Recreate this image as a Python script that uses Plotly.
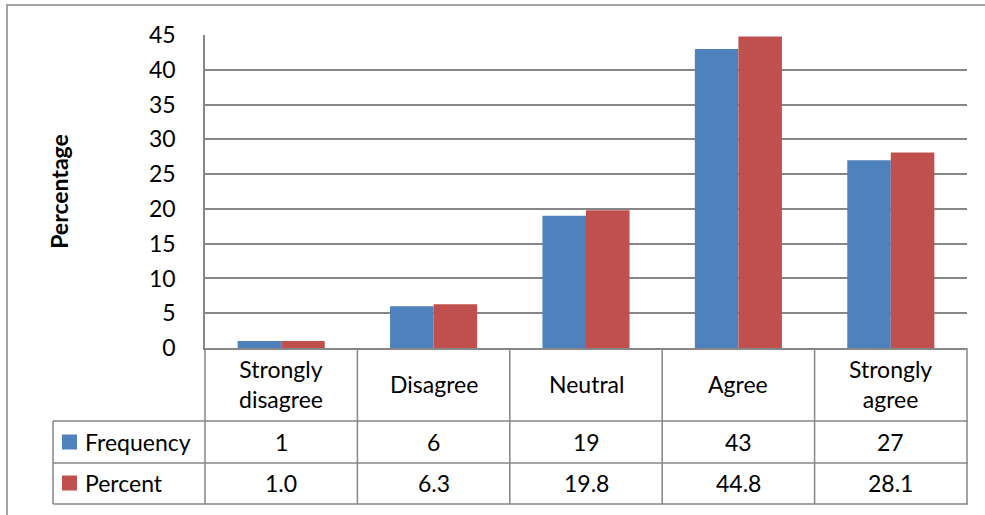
import plotly.graph_objects as go

categories = ["Strongly<br>disagree", "Disagree", "Neutral", "Agree", "Strongly<br>agree"]
frequency = [1, 6, 19, 43, 27]
percent = [1.0, 6.3, 19.8, 44.8, 28.1]
series_names = ["Frequency", "Percent"]
y_ticks = [0, 5, 10, 15, 20, 25, 30, 35, 40, 45]

BLUE = "#4F81BD"
RED = "#C0504D"
GRID = "#868686"
FONT = "Lato"
FS = 23

W, H = 985, 515
L, R, T, B = 205, 967, 35, 348

def px(x):
    return (x - L) / (R - L)

def py(y):
    return (B - y) / (B - T)

xs = list(range(len(categories)))
fig = go.Figure()
fig.add_trace(go.Bar(x=xs, y=frequency, name=series_names[0], marker=dict(color=BLUE, line=dict(width=0))))
fig.add_trace(go.Bar(x=xs, y=percent, name=series_names[1], marker=dict(color=RED, line=dict(width=0))))

shapes = []
line = dict(color=GRID, width=1.5)
# outer frame
shapes.append(dict(type="rect", xref="paper", yref="paper", x0=px(7), x1=px(1010), y0=py(5), y1=py(540), line=dict(color=GRID, width=1.5)))
# table rows
row_y = [421, 463, 504]
for yy in row_y:
    shapes.append(dict(type="line", xref="paper", yref="paper", x0=px(53), x1=px(968), y0=py(yy), y1=py(yy), line=line))
# left border of legend column
shapes.append(dict(type="line", xref="paper", yref="paper", x0=px(53), x1=px(53), y0=py(421), y1=py(504), line=line))
# column dividers
n = len(categories)
for i in range(n + 1):
    xp = i / n
    shapes.append(dict(type="line", xref="paper", yref="paper", x0=xp, x1=xp, y0=py(348), y1=py(504), line=line))

annotations = []
for i, c in enumerate(categories):
    annotations.append(dict(x=i, y=py(384), xref="x", yref="paper", text=c, showarrow=False,
                            font=dict(family=FONT, size=FS, color="black"), xanchor="center", yanchor="middle"))
    annotations.append(dict(x=i, y=py(442), xref="x", yref="paper", text=str(frequency[i]), showarrow=False,
                            font=dict(family=FONT, size=FS, color="black"), xanchor="center", yanchor="middle"))
    annotations.append(dict(x=i, y=py(483), xref="x", yref="paper", text=f"{percent[i]:.1f}", showarrow=False,
                            font=dict(family=FONT, size=FS, color="black"), xanchor="center", yanchor="middle"))

for name, col, yc in [(series_names[0], BLUE, 442), (series_names[1], RED, 483)]:
    shapes.append(dict(type="rect", xref="paper", yref="paper", x0=px(62), x1=px(77), y0=py(yc - 7.5), y1=py(yc + 7.5),
                       fillcolor=col, line=dict(width=0)))
    annotations.append(dict(x=px(83), y=py(yc), xref="paper", yref="paper", text=name, showarrow=False,
                            font=dict(family=FONT, size=FS, color="black"), xanchor="left", yanchor="middle"))

fig.update_layout(
    width=W, height=H,
    margin=dict(l=L, r=W - R, t=T, b=H - B, pad=0),
    paper_bgcolor="white", plot_bgcolor="white",
    barmode="group", bargap=1.5 / 3.5, bargroupgap=0,
    showlegend=False,
    shapes=shapes, annotations=annotations,
    font=dict(family=FONT, size=FS, color="black"),
)
fig.update_xaxes(range=[-0.5, n - 0.5], showticklabels=False, showgrid=False, zeroline=False,
                 showline=True, linecolor=GRID, linewidth=1.5, ticks="")
fig.update_yaxes(range=[0, 45], tickvals=y_ticks, showgrid=True, gridcolor=GRID, gridwidth=1.5,
                 zeroline=False, showline=True, linecolor=GRID, linewidth=1.5, ticks="",
                 ticklabelstandoff=23, tickfont=dict(family=FONT, size=FS, color="black"),
                 title=dict(text="<b>Percentage</b>", font=dict(family=FONT, size=FS, color="black"), standoff=74))

fig.write_html("out.html", config={"displayModeBar": False},
               post_script="document.body.style.margin='0';document.body.style.padding='0';document.body.style.overflow='hidden';")
